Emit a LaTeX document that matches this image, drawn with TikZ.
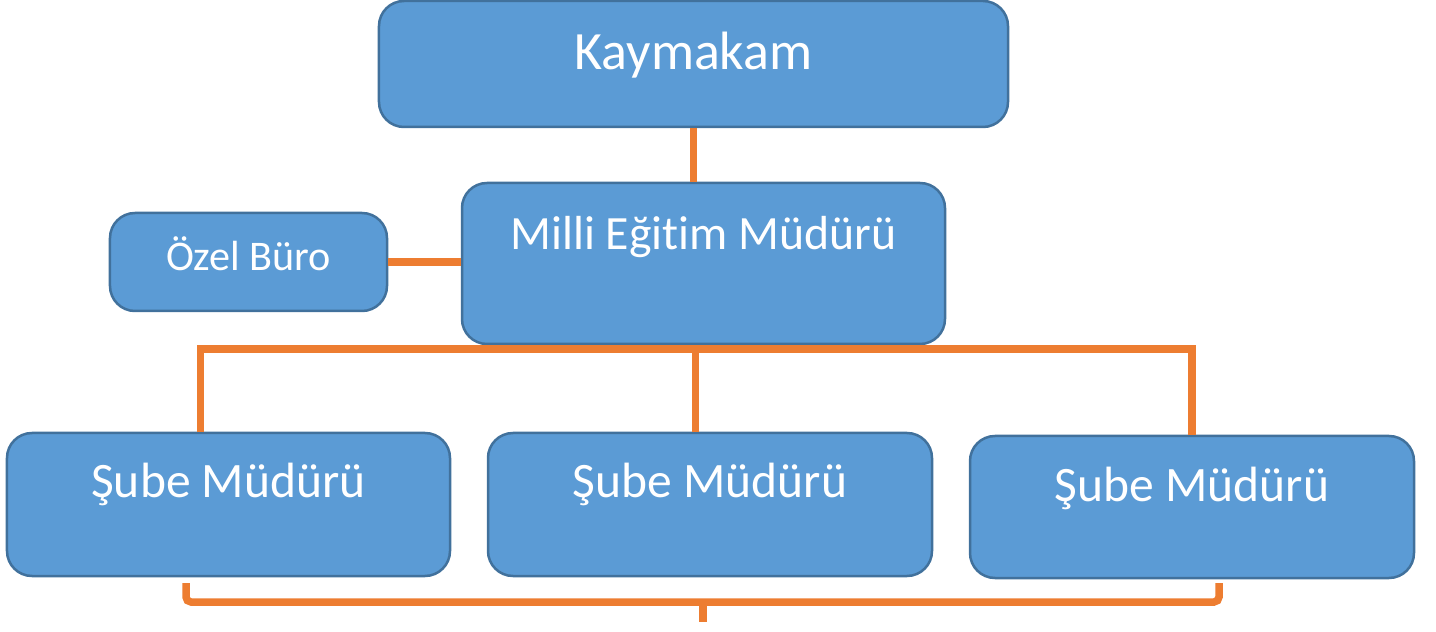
\documentclass[tikz,border=0pt]{standalone}
\usepackage{xcolor}
\usepackage{fontspec}
\setmainfont{Carlito}[Ligatures=NoCommon]
\usepackage{tikz}
\usetikzlibrary{positioning,calc}

\definecolor{boxfill}{HTML}{5B9BD5}
\definecolor{boxline}{HTML}{41719C}
\definecolor{linkorange}{HTML}{ED7D31}

\begin{document}
\begin{tikzpicture}[
    x=0.2mm, y=-0.2mm,
    orgbox/.style={draw=boxline, line width=0.5mm, fill=boxfill, rounded corners=5mm, text=white, inner sep=0pt, align=center},
    link/.style={draw=linkorange, line width=1.5mm}
  ]
    \useasboundingbox (0,0) rectangle (1436,632);
    \node[orgbox, minimum width=125.8mm, text height=13.8mm, text depth=11.4mm, font=\fontsize{30.7}{36}\selectfont] (kaymakam) at (693.5,64) {Kaymakam};
    \node[orgbox, minimum width=96.6mm, text height=13.4mm, text depth=18.8mm, font=\fontsize{27.2}{32}\selectfont] (milli) at (703.5,263.5) {Milli Eğitim Müdürü};
    \node[orgbox, minimum width=55.4mm, text height=11.6mm, text depth=8mm, font=\fontsize{24}{28}\selectfont] (ozel) at (248.5,262) {Özel Büro};
    \node[orgbox, minimum width=88.6mm, text height=13mm, text depth=15.6mm, font=\fontsize{28.2}{33}\selectfont] (sube1) at (228.5,504.5) {Şube Müdürü};
    \node[orgbox, minimum width=88.8mm, text height=13mm, text depth=15.6mm, font=\fontsize{28.2}{33}\selectfont] (sube2) at (710,504.5) {Şube Müdürü};
    \node[orgbox, minimum width=88.8mm, text height=13.2mm, text depth=15.2mm, font=\fontsize{28.2}{33}\selectfont] (sube3) at (1192,507) {Şube Müdürü};
    % connectors
    \coordinate (bus) at ($(milli.south)+(-8,4)$);
    \draw[link] (kaymakam) -- (kaymakam |- milli.north);
    \draw[link] (ozel) -- (ozel -| milli.west);
    \draw[link] ([xshift=-5.6mm]sube1.north) |- (bus) -| (sube3.north);
    \draw[link] (bus) -- (bus |- sube2.north);
    % bottom bracket
    \coordinate (bl) at (186,583);
    \coordinate (br) at (1219,583);
    \coordinate (brace) at (703,602);
    \coordinate (tip) at (703,622);
    \draw[link, rounded corners=1mm] (bl) |- (brace) -| (br);
    \draw[link] (brace) -- (tip);
  \end{tikzpicture}
\end{document}
